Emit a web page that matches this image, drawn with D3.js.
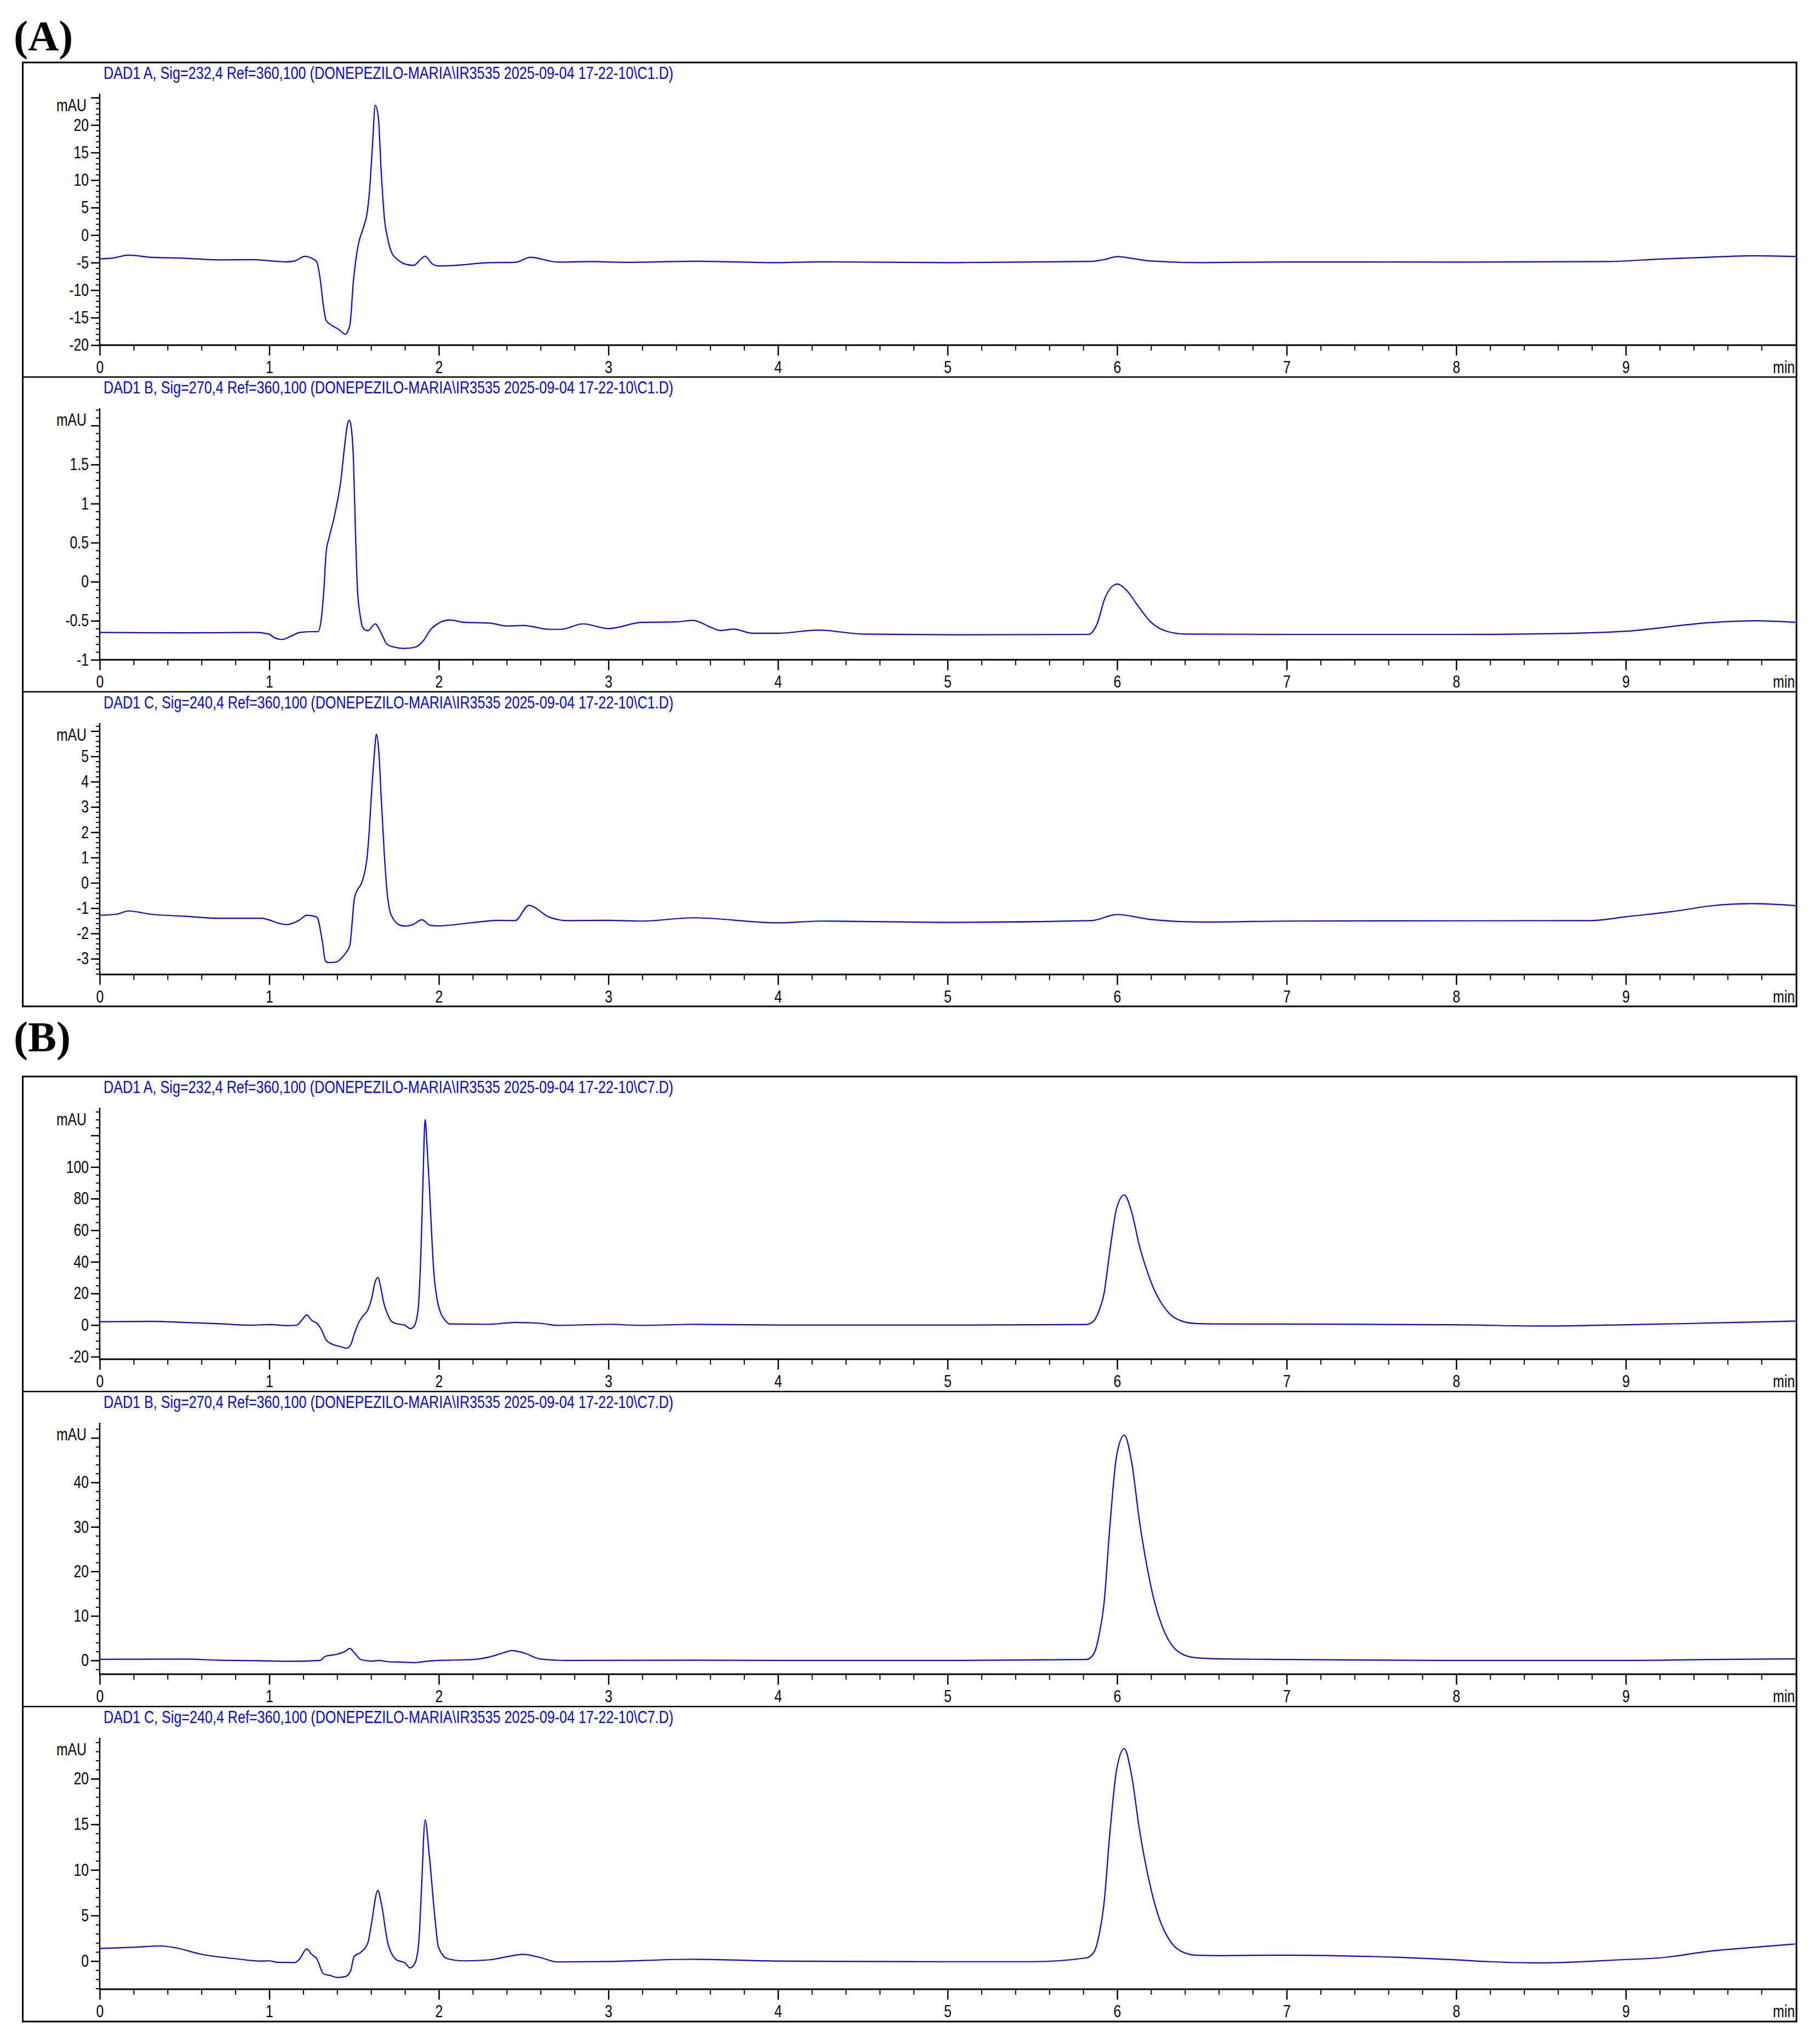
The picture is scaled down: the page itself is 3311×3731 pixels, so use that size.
<!DOCTYPE html>
<html>
<head>
<meta charset="utf-8">
<script src="https://cdn.jsdelivr.net/npm/d3@7"></script>
<style>
  html, body { margin: 0; padding: 0; background: #fff; }
  svg { display: block; }
  .narrow { font-family: "Liberation Sans", Arial, "DejaVu Sans", sans-serif; }
</style>
</head>
<body>
<script>
// ---------------- DATA ----------------
const sectionLabels = ["(A)", "(B)"];
const panelTitles = [
  "DAD1 A, Sig=232,4 Ref=360,100 (DONEPEZILO-MARIA\\IR3535 2025-09-04 17-22-10\\C1.D)",
  "DAD1 B, Sig=270,4 Ref=360,100 (DONEPEZILO-MARIA\\IR3535 2025-09-04 17-22-10\\C1.D)",
  "DAD1 C, Sig=240,4 Ref=360,100 (DONEPEZILO-MARIA\\IR3535 2025-09-04 17-22-10\\C1.D)",
  "DAD1 A, Sig=232,4 Ref=360,100 (DONEPEZILO-MARIA\\IR3535 2025-09-04 17-22-10\\C7.D)",
  "DAD1 B, Sig=270,4 Ref=360,100 (DONEPEZILO-MARIA\\IR3535 2025-09-04 17-22-10\\C7.D)",
  "DAD1 C, Sig=240,4 Ref=360,100 (DONEPEZILO-MARIA\\IR3535 2025-09-04 17-22-10\\C7.D)"
];
const xTickLabels = [0, 1, 2, 3, 4, 5, 6, 7, 8, 9];
const xUnit = "min";
const yUnit = "mAU";

// y-axis extents (value at axis line, value at axis top), major and minor tick steps
const yExtents = [[-20, 25.7], [-1, 2.22], [-3.62, 6.32], [-21.6, 137.5], [-3.1, 53.4], [-3.09, 24.5]];
const yMajorSteps = [5, 0.5, 1, 20, 10, 5];
const yMinorSteps = [1, 0.1, 0.2, 5, 2, 1];

// traces: [time (min), signal (mAU)]
const traceA1 = [[0,-4.3],[0.07,-4.2],[0.17,-3.63],[0.3,-4.03],[0.5,-4.2],[0.7,-4.5],[0.9,-4.45],[1.1,-4.85],[1.15,-4.7],[1.21,-3.86],
  [1.25,-4.2],[1.279,-4.8],[1.3,-7.95],[1.319,-12.8],[1.335,-15.5],[1.368,-16.4],[1.408,-17.1],[1.448,-18.0],[1.475,-16.4],[1.496,-8.4],
  [1.515,-3.5],[1.528,-1.3],[1.555,1.37],[1.577,4.04],[1.59,7.6],[1.608,16.0],[1.625,23.6],[1.643,21.4],[1.66,11.6],[1.68,2.7],
  [1.7,-0.85],[1.72,-3.06],[1.755,-4.4],[1.795,-5.2],[1.85,-5.5],[1.9,-4.2],[1.92,-3.82],[1.96,-5.2],[2.0,-5.6],[2.1,-5.5],
  [2.3,-5.0],[2.45,-4.95],[2.54,-4.04],[2.7,-4.9],[2.9,-4.8],[3.1,-4.95],[3.5,-4.75],[4.0,-5.0],[4.25,-4.85],[5.0,-5.0],
  [5.85,-4.77],[5.93,-4.4],[6.0,-3.9],[6.1,-4.3],[6.2,-4.7],[6.5,-5.0],[7.0,-4.87],[8.0,-4.9],[8.9,-4.8],[9.2,-4.35],
  [9.5,-4.0],[9.75,-3.75],[10,-3.88]];

const traceA2 = [[0,-0.65],[0.5,-0.655],[0.912,-0.65],[0.992,-0.667],[1.032,-0.718],[1.073,-0.74],[1.126,-0.7],[1.18,-0.65],[1.26,-0.64],[1.287,-0.64],
  [1.309,-0.433],[1.322,-0.097],[1.335,0.372],[1.354,0.574],[1.381,0.808],[1.4,1.01],[1.421,1.278],[1.443,1.715],[1.461,2.016],[1.472,2.067],
  [1.483,1.98],[1.496,1.58],[1.509,0.574],[1.52,-0.097],[1.536,-0.433],[1.555,-0.6],[1.581,-0.628],[1.624,-0.54],[1.662,-0.667],[1.694,-0.8],
  [1.742,-0.84],[1.796,-0.855],[1.863,-0.836],[1.903,-0.77],[1.957,-0.6],[2.064,-0.49],[2.15,-0.52],[2.3,-0.53],[2.4,-0.567],[2.5,-0.56],
  [2.65,-0.61],[2.72,-0.61],[2.85,-0.54],[3.0,-0.6],[3.2,-0.52],[3.4,-0.515],[3.5,-0.495],[3.6,-0.58],[3.66,-0.625],[3.74,-0.607],
  [3.85,-0.66],[4.0,-0.66],[4.24,-0.62],[4.5,-0.67],[5.0,-0.68],[5.83,-0.675],[5.88,-0.55],[5.93,-0.2],[6.0,-0.03],[6.06,-0.12],
  [6.12,-0.3],[6.2,-0.52],[6.3,-0.64],[6.4,-0.67],[7,-0.675],[8,-0.675],[8.7,-0.66],[9.0,-0.634],[9.5,-0.523],[9.77,-0.5],[10,-0.52]];

const traceA3 = [[0,-1.28],[0.1,-1.24],[0.17,-1.11],[0.3,-1.24],[0.5,-1.32],[0.7,-1.4],[0.95,-1.4],[1.1,-1.65],[1.18,-1.46],[1.22,-1.28],
  [1.28,-1.35],[1.314,-2.37],[1.33,-3.07],[1.346,-3.15],[1.394,-3.13],[1.426,-2.97],[1.453,-2.75],[1.475,-2.48],[1.488,-1.62],[1.501,-0.65],
  [1.52,-0.27],[1.541,-0.06],[1.563,0.43],[1.576,0.96],[1.587,1.82],[1.603,3.55],[1.619,5.05],[1.632,5.88],[1.645,5.27],[1.662,3.12],
  [1.678,1.18],[1.694,-0.33],[1.71,-1.08],[1.732,-1.43],[1.77,-1.67],[1.8,-1.71],[1.85,-1.64],[1.9,-1.46],[1.95,-1.68],[2.0,-1.7],
  [2.2,-1.57],[2.35,-1.48],[2.45,-1.49],[2.53,-0.89],[2.65,-1.35],[2.75,-1.49],[3.0,-1.48],[3.2,-1.51],[3.5,-1.38],[4.0,-1.58],
  [4.25,-1.51],[5.0,-1.56],[5.85,-1.49],[6.0,-1.25],[6.2,-1.45],[6.5,-1.55],[7,-1.51],[8,-1.5],[8.8,-1.49],[9.0,-1.34],
  [9.3,-1.11],[9.5,-0.91],[9.75,-0.82],[10,-0.9]];

const traceB1 = [[0,2.1],[0.3,2.35],[0.5,1.7],[0.7,0.9],[0.9,-0.1],[1.0,0.4],[1.1,-0.3],[1.16,-0.1],[1.2,4.2],[1.22,6.4],
  [1.25,3.0],[1.287,0.5],[1.309,-3.2],[1.335,-9.4],[1.381,-12.5],[1.421,-13.7],[1.456,-14.6],[1.48,-12.5],[1.501,-5.7],[1.528,1.7],
  [1.555,6.1],[1.582,9.8],[1.603,16.6],[1.622,26.5],[1.641,30.2],[1.657,24],[1.675,14.1],[1.694,7.9],[1.716,3.0],[1.742,1.1],
  [1.8,-0.1],[1.831,-2.2],[1.85,-1.4],[1.877,9.1],[1.895,48.7],[1.906,89.5],[1.919,130],[1.93,114],[1.943,89.5],[1.957,58.6],
  [1.97,33.9],[1.989,16.6],[2.01,7.9],[2.037,3.0],[2.064,0.7],[2.3,0.5],[2.45,1.7],[2.6,1.1],[2.7,-0.2],[3.0,0.5],
  [3.2,-0.2],[3.5,0.5],[4,0],[5,0],[5.819,0.4],[5.864,2.8],[5.895,9.6],[5.922,19.5],[5.957,46.7],[5.997,73.9],
  [6.042,82.3],[6.086,71.4],[6.131,50.4],[6.184,31.9],[6.22,22.0],[6.264,13.4],[6.309,7.2],[6.375,2.8],[6.464,1.0],[6.6,0.7],
  [7,0.6],[8,0.2],[8.5,-0.6],[9,0.2],[9.5,1.3],[10,2.5]];

const traceB2 = [[0,0.23],[0.5,0.3],[0.7,0.05],[1.0,-0.1],[1.1,-0.2],[1.3,0],[1.33,0.9],[1.4,1.4],[1.45,2.1],[1.474,2.7],
  [1.5,1.8],[1.54,0.2],[1.6,-0.15],[1.65,0],[1.7,-0.3],[1.8,-0.4],[1.85,-0.5],[1.95,-0.1],[2.1,0.1],[2.2,0.2],
  [2.3,0.8],[2.38,1.7],[2.43,2.2],[2.5,1.7],[2.6,0.3],[2.75,0],[3.5,0.05],[4,0],[5,0],[5.819,0.2],
  [5.864,1.6],[5.895,6.0],[5.922,12.5],[5.957,30.0],[5.997,46.0],[6.042,50.6],[6.086,44.5],[6.131,31.5],[6.184,19.5],[6.22,13.2],
  [6.264,7.8],[6.309,4.2],[6.375,1.6],[6.464,0.6],[6.6,0.35],[7,0.2],[8,0],[9,0],[9.5,0.2],[10,0.35]];

const traceB3 = [[0,1.38],[0.2,1.52],[0.36,1.66],[0.45,1.45],[0.6,0.74],[0.8,0.26],[0.95,0],[1.0,0.02],[1.05,-0.14],[1.15,-0.17],
  [1.18,0.26],[1.22,1.33],[1.25,0.74],[1.28,0.26],[1.32,-1.4],[1.36,-1.59],[1.4,-1.8],[1.45,-1.69],[1.48,-1.05],[1.5,0.5],
  [1.54,0.97],[1.58,1.92],[1.6,3.8],[1.64,7.74],[1.66,6.4],[1.7,1.9],[1.75,0.14],[1.8,-0.2],[1.83,-0.74],[1.86,-0.2],
  [1.882,2.16],[1.898,8.1],[1.919,15.5],[1.943,11.7],[1.978,4.5],[1.997,1.57],[2.05,0.26],[2.15,0.02],[2.3,0.14],[2.5,0.74],
  [2.6,0.38],[2.7,-0.1],[3.0,-0.05],[3.5,0.2],[4,0],[5,-0.07],[5.5,-0.07],[5.819,0.35],[5.864,1.0],[5.895,3.0],
  [5.922,6.2],[5.957,14.0],[5.997,21.0],[6.042,23.3],[6.086,20.3],[6.131,14.5],[6.184,9.2],[6.22,6.4],[6.264,3.9],[6.309,2.3],
  [6.375,1.1],[6.464,0.65],[6.6,0.6],[7,0.65],[7.5,0.5],[8,0.13],[8.2,-0.07],[8.5,-0.2],[9,0.17],[9.2,0.35],
  [9.5,1.1],[9.75,1.5],[10,1.87]];

const panelTraces = [traceA1, traceA2, traceA3, traceB1, traceB2, traceB3];

// ---------------- LAYOUT ----------------
const W = 3311, H = 3731;
const frameL = 41.5, frameR = 3279;
const sections = [
  { top: 114, bottom: 1837, labelY: 92 },
  { top: 1965, bottom: 3690, labelY: 1919 }
];
const X0 = 182, X1 = 3277;
const BLUE = "#0000ff";
const SX = 0.8;      // horizontal squeeze to imitate a narrow sans font
const FS = 31;

const svg = d3.select("body").append("svg")
  .attr("width", W).attr("height", H)
  .attr("viewBox", `0 0 ${W} ${H}`);
svg.append("rect").attr("width", W).attr("height", H).attr("fill", "#fff");

const x = d3.scaleLinear().domain([0, 10]).range([X0, X1]);

function stepTicks(lo, hi, step) {
  const out = [];
  const start = Math.ceil(lo / step - 1e-9);
  for (let k = start; k * step <= hi + 1e-9; k++) out.push(+(k * step).toFixed(4));
  return out;
}

sections.forEach((sec, si) => {
  svg.append("text")
    .attr("x", 25).attr("y", sec.labelY)
    .attr("font-family", "'Liberation Serif', 'Times New Roman', serif")
    .attr("font-weight", "bold").attr("font-size", 78)
    .attr("fill", "#000")
    .text(sectionLabels[si]);

  svg.append("rect")
    .attr("x", frameL).attr("y", sec.top)
    .attr("width", frameR - frameL).attr("height", sec.bottom - sec.top)
    .attr("fill", "none").attr("stroke", "#000").attr("stroke-width", 3);

  const subH = (sec.bottom - sec.top) / 3;
  for (let j = 0; j < 3; j++) {
    const p = si * 3 + j;
    const T = sec.top + j * subH;
    if (j > 0) {
      svg.append("line")
        .attr("x1", frameL).attr("x2", frameR).attr("y1", T).attr("y2", T)
        .attr("stroke", "#000").attr("stroke-width", 2.5);
    }
    const g = svg.append("g");
    const axisY = T + 516, topY = T + 57;
    const [ylo, yhi] = yExtents[p];
    const y = d3.scaleLinear().domain([ylo, yhi]).range([axisY, topY]);

    // title
    g.append("text")
      .attr("class", "narrow")
      .attr("x", 189).attr("y", T + 30)
      .attr("font-size", 31).attr("fill", BLUE)
      .attr("textLength", 1040).attr("lengthAdjust", "spacingAndGlyphs")
      .text(panelTitles[p]);

    // y minor ticks
    const yMinor = g.append("g").attr("transform", `translate(${X0},0)`)
      .call(d3.axisLeft(y).tickValues(stepTicks(ylo, yhi, yMinorSteps[p])).tickSize(7).tickFormat(""));
    yMinor.select(".domain").remove();
    yMinor.selectAll("line").attr("stroke", "#000").attr("stroke-width", 2);

    // y major ticks + labels
    const unitY = T + 78;
    const majors = stepTicks(ylo, yhi, yMajorSteps[p]);
    const yMajor = g.append("g").attr("transform", `translate(${X0},0)`)
      .call(d3.axisLeft(y).tickValues(majors).tickSize(16).tickPadding(4)
        .tickFormat(d => Math.abs(y(d) - unitY) < 35 ? "" : String(+d.toFixed(2))));
    yMajor.select(".domain").remove();
    yMajor.selectAll("line").attr("stroke", "#000").attr("stroke-width", 2.5);
    yMajor.selectAll("text")
      .attr("class", "narrow").attr("font-size", FS).attr("fill", "#000")
      .attr("x", 0).attr("transform", `translate(-20,0) scale(${SX},1)`);

    // y axis line
    g.append("line").attr("x1", X0).attr("x2", X0).attr("y1", topY).attr("y2", axisY + 1)
      .attr("stroke", "#000").attr("stroke-width", 2.5);

    // mAU
    g.append("text").attr("class", "narrow")
      .attr("transform", `translate(158,${unitY + 11}) scale(${SX},1)`)
      .attr("text-anchor", "end").attr("font-size", FS).attr("fill", "#000")
      .text(yUnit);

    // x minor ticks
    const xMinorVals = stepTicks(0, 9.9, 0.2).filter(v => Math.abs(v - Math.round(v)) > 1e-6);
    const xMinor = g.append("g").attr("transform", `translate(0,${axisY})`)
      .call(d3.axisBottom(x).tickValues(xMinorVals).tickSize(10).tickFormat(""));
    xMinor.select(".domain").remove();
    xMinor.selectAll("line").attr("stroke", "#000").attr("stroke-width", 2);

    // x major ticks + labels
    const xMajor = g.append("g").attr("transform", `translate(0,${axisY})`)
      .call(d3.axisBottom(x).tickValues(xTickLabels).tickSize(19).tickFormat(d => String(d)));
    xMajor.select(".domain").remove();
    xMajor.selectAll("line").attr("stroke", "#000").attr("stroke-width", 2.5);
    xMajor.selectAll("text")
      .attr("class", "narrow").attr("font-size", FS).attr("fill", "#000")
      .attr("y", 0).attr("dy", null)
      .attr("transform", `translate(0,51) scale(${SX},1)`);

    // x axis line
    g.append("line").attr("x1", X0 - 1).attr("x2", frameR).attr("y1", axisY).attr("y2", axisY)
      .attr("stroke", "#000").attr("stroke-width", 3);

    // min label
    g.append("text").attr("class", "narrow")
      .attr("transform", `translate(${X1 - 1},${axisY + 51}) scale(${SX},1)`)
      .attr("text-anchor", "end").attr("font-size", FS).attr("fill", "#000")
      .text(xUnit);

    // trace
    const line = d3.line()
      .x(d => x(d[0])).y(d => y(d[1]))
      .curve(d3.curveMonotoneX);
    g.append("path")
      .datum(panelTraces[p])
      .attr("d", line)
      .attr("fill", "none").attr("stroke", BLUE).attr("stroke-width", 2.2)
      .attr("stroke-linejoin", "round");
  }
});
</script>
</body>
</html>
